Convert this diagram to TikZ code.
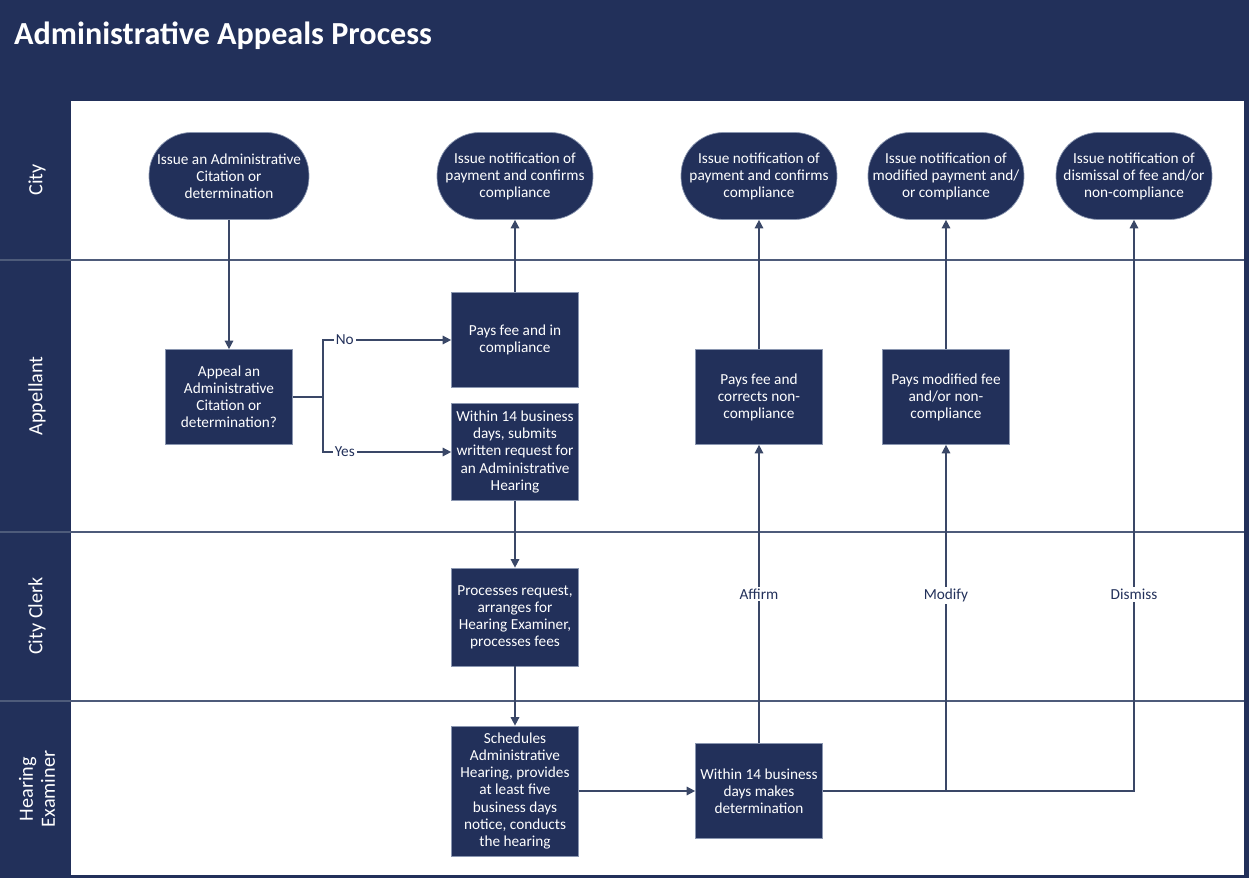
\documentclass[tikz,border=0pt]{standalone}
\usepackage{fontspec}
\setmainfont{Carlito}
\usetikzlibrary{arrows.meta,positioning}
\definecolor{navy}{HTML}{22305A}
\definecolor{laneline}{HTML}{4E5B7A}
\definecolor{flowline}{HTML}{3A4767}
\definecolor{boxedge}{HTML}{8A96B0}

\tikzset{
    task/.style={fill=navy, draw=boxedge, line width=0.4pt, text=white, align=center,
        font=\fontsize{8.7}{9.7}\selectfont, minimum width=2.54cm, minimum height=1.9cm, inner sep=1pt},
    term/.style={task, rounded corners=0.85cm, minimum width=3.12cm, minimum height=1.74cm},
    flow/.style={draw=flowline, line width=0.85pt, -{Triangle[length=0.17cm,width=0.17cm]}},
    plain/.style={draw=flowline, line width=0.85pt},
    lbl/.style={fill=white, text=navy, inner sep=1pt, font=\fontsize{8.7}{9.7}\selectfont},
    lanename/.style={rotate=90, text=white, align=center, font=\fontsize{11.5}{12.5}\selectfont}
}

\begin{document}
\begin{tikzpicture}[x=0.02cm, y=-0.02cm]
        \useasboundingbox (0,0) rectangle (1249,878);
        %Frame, title band and lane column
        \fill[navy] (0,0) rectangle (1249,878);
        \fill[white] (71,101) rectangle (1244,875);
        \node[anchor=west, text=white, font=\fontsize{18.3}{20}\selectfont\bfseries] (title) at (8,36) {Administrative Appeals Process};
        \foreach \y in {260,532,701} {
            \draw[laneline, line width=1pt] (0,\y) -- (1244,\y);
        }
        \node[lanename] (lcity) at (37,180) {City};
        \node[lanename] (lapp) at (37,396) {Appellant};
        \node[lanename] (lclerk) at (37,616) {City Clerk};
        \node[lanename] (lhear) at (37,789) {Hearing\\Examiner};
        %City lane
        \node[term, minimum width=3.2cm] (c1) at (229,176) {Issue an Administrative\\Citation or\\determination};
        \node[term] (c2) at (515,176) {Issue notification of\\payment and confirms\\compliance};
        \node[term] (c3) at (759,176) {Issue notification of\\payment and confirms\\compliance};
        \node[term] (c4) at (946,176) {Issue notification of\\modified payment and/\\or compliance};
        \node[term] (c5) at (1134,176) {Issue notification of\\dismissal of fee and/or\\non-compliance};
        %Appellant lane
        \node[task] (a1) at (229,397) {Appeal an\\Administrative\\Citation or\\determination?};
        \node[task] (a2) at (515,340) {Pays fee and in\\compliance};
        \node[task, minimum height=1.94cm] (a3) at (515,452) {Within 14 business\\days, submits\\written request for\\an Administrative\\Hearing};
        \node[task] (a4) at (759,397) {Pays fee and\\corrects non-\\compliance};
        \node[task] (a5) at (946,397) {Pays modified fee\\and/or non-\\compliance};
        %City Clerk lane
        \node[task, minimum height=1.96cm] (k1) at (515,617) {Processes request,\\arranges for\\Hearing Examiner,\\processes fees};
        %Hearing Examiner lane
        \node[task, minimum height=2.6cm] (h1) at (515,791) {Schedules\\Administrative\\Hearing, provides\\at least five\\business days\\notice, conducts\\the hearing};
        \node[task] (h2) at (759,791) {Within 14 business\\days makes\\determination};
        %Connectors
        \coordinate (split) at (323,397);
        \draw[flow] (c1) -- (a1);
        \draw[plain] (a1) -- (split);
        \draw[flow] (split) |- node[lbl, pos=0.585] {No} (a2);
        \draw[flow] (split) |- node[lbl, pos=0.585] {Yes} (a3);
        \draw[flow] (a2) -- (c2);
        \draw[flow] (a3) -- (k1);
        \draw[flow] (k1) -- (h1);
        \draw[flow] (h1) -- (h2);
        \draw[flow] (h2) -- node[lbl, pos=0.5] {Affirm} (a4);
        \draw[flow] (a4) -- (c3);
        \draw[flow] (h2.east) -| node[lbl, pos=0.672] {Dismiss} (c5);
        \draw[flow] (h2.east -| a5) -- node[lbl, pos=0.565] {Modify} (a5);
        \draw[flow] (a5) -- (c4);
    \end{tikzpicture}
\end{document}
